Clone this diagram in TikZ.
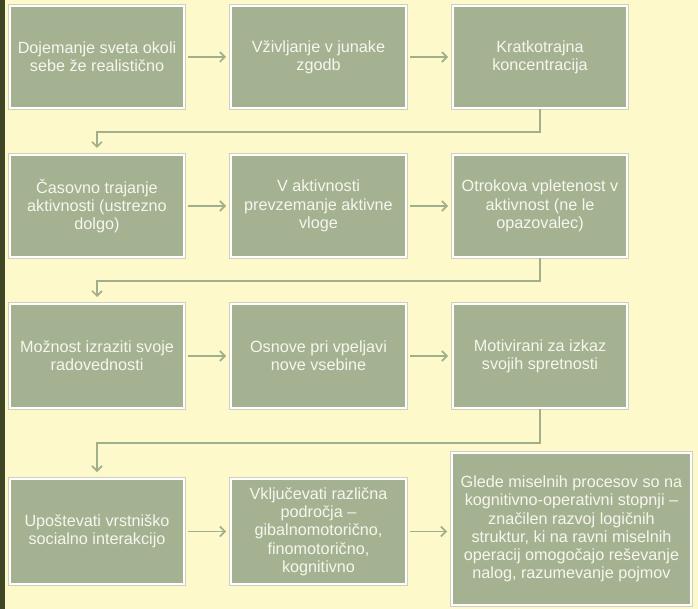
\documentclass[tikz,border=0pt]{standalone}
\usepackage{fontspec}
\setmainfont{Liberation Sans}
\usetikzlibrary{arrows.meta}
\definecolor{bgc}{RGB}{254,249,202}
\definecolor{barc}{RGB}{62,70,36}
\definecolor{boxc}{RGB}{165,178,145}
\definecolor{arrc}{RGB}{160,175,140}
\definecolor{edgec}{RGB}{205,208,190}
\definecolor{txtc}{RGB}{246,246,238}
\tikzset{
  box/.style={rectangle, fill=boxc, draw=white, line width=2pt,
    preaction={draw=edgec, line width=3.4pt},
    inner sep=0pt, align=center, text=txtc,
    font=\fontsize{16.2}{18.3}\selectfont},
  conn/.style={draw=arrc, line width=1.3pt,
    -{Straight Barb[length=5pt,width=10pt,line width=1.6pt]}},
  hconn/.style={conn, shorten <=3pt, shorten >=4pt},
  vconn/.style={conn, shorten >=6pt}
}
\begin{document}
\begin{tikzpicture}[x=1pt,y=-1pt]
\useasboundingbox (0,0) rectangle (698,609);
\fill[bgc] (0,0) rectangle (698,609);
\fill[barc] (0,0) rectangle (5,609);
% row 1
\node[box, minimum width=174pt, minimum height=102pt] (a1) at (97,57) {Dojemanje sveta okoli\\sebe že realistično};
\node[box, minimum width=175pt, minimum height=102pt] (a2) at (318.5,57) {Vživljanje v junake\\zgodb};
\node[box, minimum width=174pt, minimum height=102pt] (a3) at (540,57) {Kratkotrajna\\koncentracija};
% row 2
\node[box, minimum width=174pt, minimum height=102pt] (b1) at (97,206) {Časovno trajanje\\aktivnosti (ustrezno\\dolgo)};
\node[box, minimum width=175pt, minimum height=102pt] (b2) at (318.5,206) {V aktivnosti\\prevzemanje aktivne\\vloge};
\node[box, minimum width=174pt, minimum height=102pt] (b3) at (540,206) {Otrokova vpletenost v\\aktivnost (ne le\\opazovalec)};
% row 3
\node[box, minimum width=174pt, minimum height=104pt] (c1) at (97,356) {Možnost izraziti svoje\\radovednosti};
\node[box, minimum width=175pt, minimum height=104pt] (c2) at (318.5,356) {Osnove pri vpeljavi\\nove vsebine};
\node[box, minimum width=174pt, minimum height=104pt] (c3) at (540,356) {Motivirani za izkaz\\svojih spretnosti};
% row 4
\node[box, minimum width=174pt, minimum height=105pt] (d1) at (97,531.5) {Upoštevati vrstniško\\socialno interakcijo};
\node[box, minimum width=175pt, minimum height=105pt] (d2) at (318.5,531.5) {Vključevati različna\\področja –\\gibalnomotorično,\\finomotorično,\\kognitivno};
\node[box, minimum width=239pt, minimum height=152pt] (d3) at (571.5,529) {Glede miselnih procesov so na\\kognitivno-operativni stopnji –\\značilen razvoj logičnih\\struktur, ki na ravni miselnih\\operacij omogočajo reševanje\\nalog, razumevanje pojmov};
% horizontal connectors
\draw[hconn] (a1) -- (a2);
\draw[hconn] (a2) -- (a3);
\draw[hconn] (b1) -- (b2);
\draw[hconn] (b2) -- (b3);
\draw[hconn] (c1) -- (c2);
\draw[hconn] (c2) -- (c3);
\draw[hconn] (d1) -- (d2);
\draw[hconn] (d2.east) -- (d2.east -| d3.west);
% elbow connectors
\draw[vconn] (a3.south) -- ++(0,23) -| (b1.north);
\draw[vconn] (b3.south) -- ++(0,23) -| (c1.north);
\draw[vconn] (c3.south) -- ++(0,34) -| (d1.north);
\end{tikzpicture}
\end{document}
